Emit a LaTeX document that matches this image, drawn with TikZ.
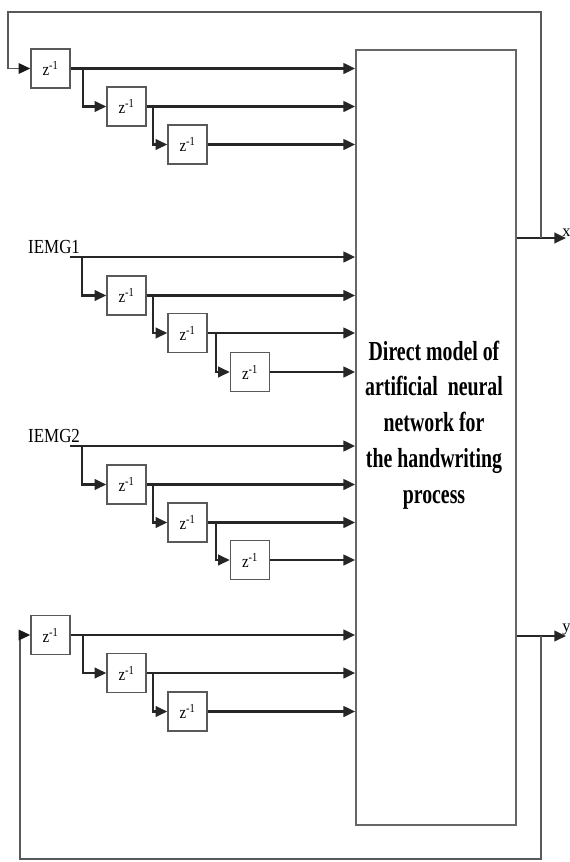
\documentclass[tikz,border=0pt]{standalone}
\usepackage{fontspec}
\setmainfont{Liberation Serif}
\newfontfamily\netfont{Liberation Serif Bold}[FakeStretch=0.72]
\newfontfamily\labfont{Liberation Serif}[FakeStretch=0.85]
\usepackage{tikz}
\usetikzlibrary{arrows.meta}

\tikzset{
    delay/.style={draw=black!65, line width=1.2pt, minimum width=1.17cm, minimum height=1.17cm,
        inner sep=0pt, font=\labfont\fontsize{15}{15}\selectfont},
    sig/.style={draw=black!85, line width=2pt, ->},
    fback/.style={draw=black!65, line width=1.4pt, -{Triangle[length=10pt,width=9pt,black!90]}},
    inlab/.style={inner sep=0pt, font=\labfont\fontsize{17}{17}\selectfont},
}

\begin{document}
\begin{tikzpicture}[x=0.03cm, y=-0.03cm, >={Triangle[length=10pt,width=9pt]}]
    \useasboundingbox (0,0) rectangle (570,862);

    \node[draw=black!60, line width=1.4pt, minimum width=4.8cm, minimum height=23.25cm, inner sep=0pt] at (436,437.5) (net) {};
    \node[align=center, font=\netfont\fontsize{23.5}{30.6}\selectfont] at (434,425) (nettext)
        {Direct model of\\artificial\ \ neural\\network for\\the handwriting\\process};

    % fed back x
    \node[delay] at (50.5,68.5) (a1) {z\textsuperscript{-1}};
    \node[delay] at (126.5,106.5) (a2) {z\textsuperscript{-1}};
    \node[delay] at (187.5,144.5) (a3) {z\textsuperscript{-1}};

    % IEMG1
    \node[inlab, anchor=south west] at (28,254) (lab1) {IEMG1};
    \coordinate (in1) at (70,257);
    \node[delay] at (126.5,295.5) (b1) {z\textsuperscript{-1}};
    \node[delay] at (187.5,333) (b2) {z\textsuperscript{-1}};
    \node[delay] at (250,372) (b3) {z\textsuperscript{-1}};

    % IEMG2
    \node[inlab, anchor=south west] at (28,443) (lab2) {IEMG2};
    \coordinate (in2) at (70,446);
    \node[delay] at (126.5,484.5) (c1) {z\textsuperscript{-1}};
    \node[delay] at (187.5,522.5) (c2) {z\textsuperscript{-1}};
    \node[delay] at (250,560) (c3) {z\textsuperscript{-1}};

    % fed back y
    \node[delay] at (50.5,635) (d1) {z\textsuperscript{-1}};
    \node[delay] at (126.5,673) (d2) {z\textsuperscript{-1}};
    \node[delay] at (187.5,711.5) (d3) {z\textsuperscript{-1}};

    % outputs
    \coordinate (xend) at (566,238);
    \coordinate (xtap) at (541,238);
    \coordinate (xtop) at (8,12);
    \coordinate (yend) at (566,636);
    \coordinate (ytap) at (541,636);
    \coordinate (ybot) at (20,859);

    \draw[sig] (net.east |- xend) -- (xend) node[anchor=south west, inner sep=0pt, font=\fontsize{14}{14}\selectfont, xshift=-4] {x};
    \draw[sig] (net.east |- yend) -- (yend) node[anchor=south west, inner sep=0pt, font=\fontsize{14}{14}\selectfont, xshift=-4] {y};
    \draw[fback] (xtap) |- (xtop) |- (a1.west);
    \draw[fback] (ytap) |- (ybot) |- (d1.west);

    \draw[sig] (a1.east) -- (a1.east -| net.west);
    \draw[sig] (a2.east) -- (a2.east -| net.west);
    \draw[sig] (a3.east) -- (a3.east -| net.west);
    \draw[sig] (a1.east) ++(12,0) |- (a2.west);
    \draw[sig] (a2.east) ++(6,0) |- (a3.west);

    \draw[sig] (in1) -- (in1 -| net.west);
    \draw[sig] (b1.east) -- (b1.east -| net.west);
    \draw[sig] (b2.east) -- (b2.east -| net.west);
    \draw[sig] (b3.east) -- (b3.east -| net.west);
    \draw[sig] (in1) ++(12,0) |- (b1.west);
    \draw[sig] (b1.east) ++(6,0) |- (b2.west);
    \draw[sig] (b2.east) ++(8,0) |- (b3.west);

    \draw[sig] (in2) -- (in2 -| net.west);
    \draw[sig] (c1.east) -- (c1.east -| net.west);
    \draw[sig] (c2.east) -- (c2.east -| net.west);
    \draw[sig] (c3.east) -- (c3.east -| net.west);
    \draw[sig] (in2) ++(12,0) |- (c1.west);
    \draw[sig] (c1.east) ++(6,0) |- (c2.west);
    \draw[sig] (c2.east) ++(8,0) |- (c3.west);

    \draw[sig] (d1.east) -- (d1.east -| net.west);
    \draw[sig] (d2.east) -- (d2.east -| net.west);
    \draw[sig] (d3.east) -- (d3.east -| net.west);
    \draw[sig] (d1.east) ++(12,0) |- (d2.west);
    \draw[sig] (d2.east) ++(6,0) |- (d3.west);
\end{tikzpicture}
\end{document}
